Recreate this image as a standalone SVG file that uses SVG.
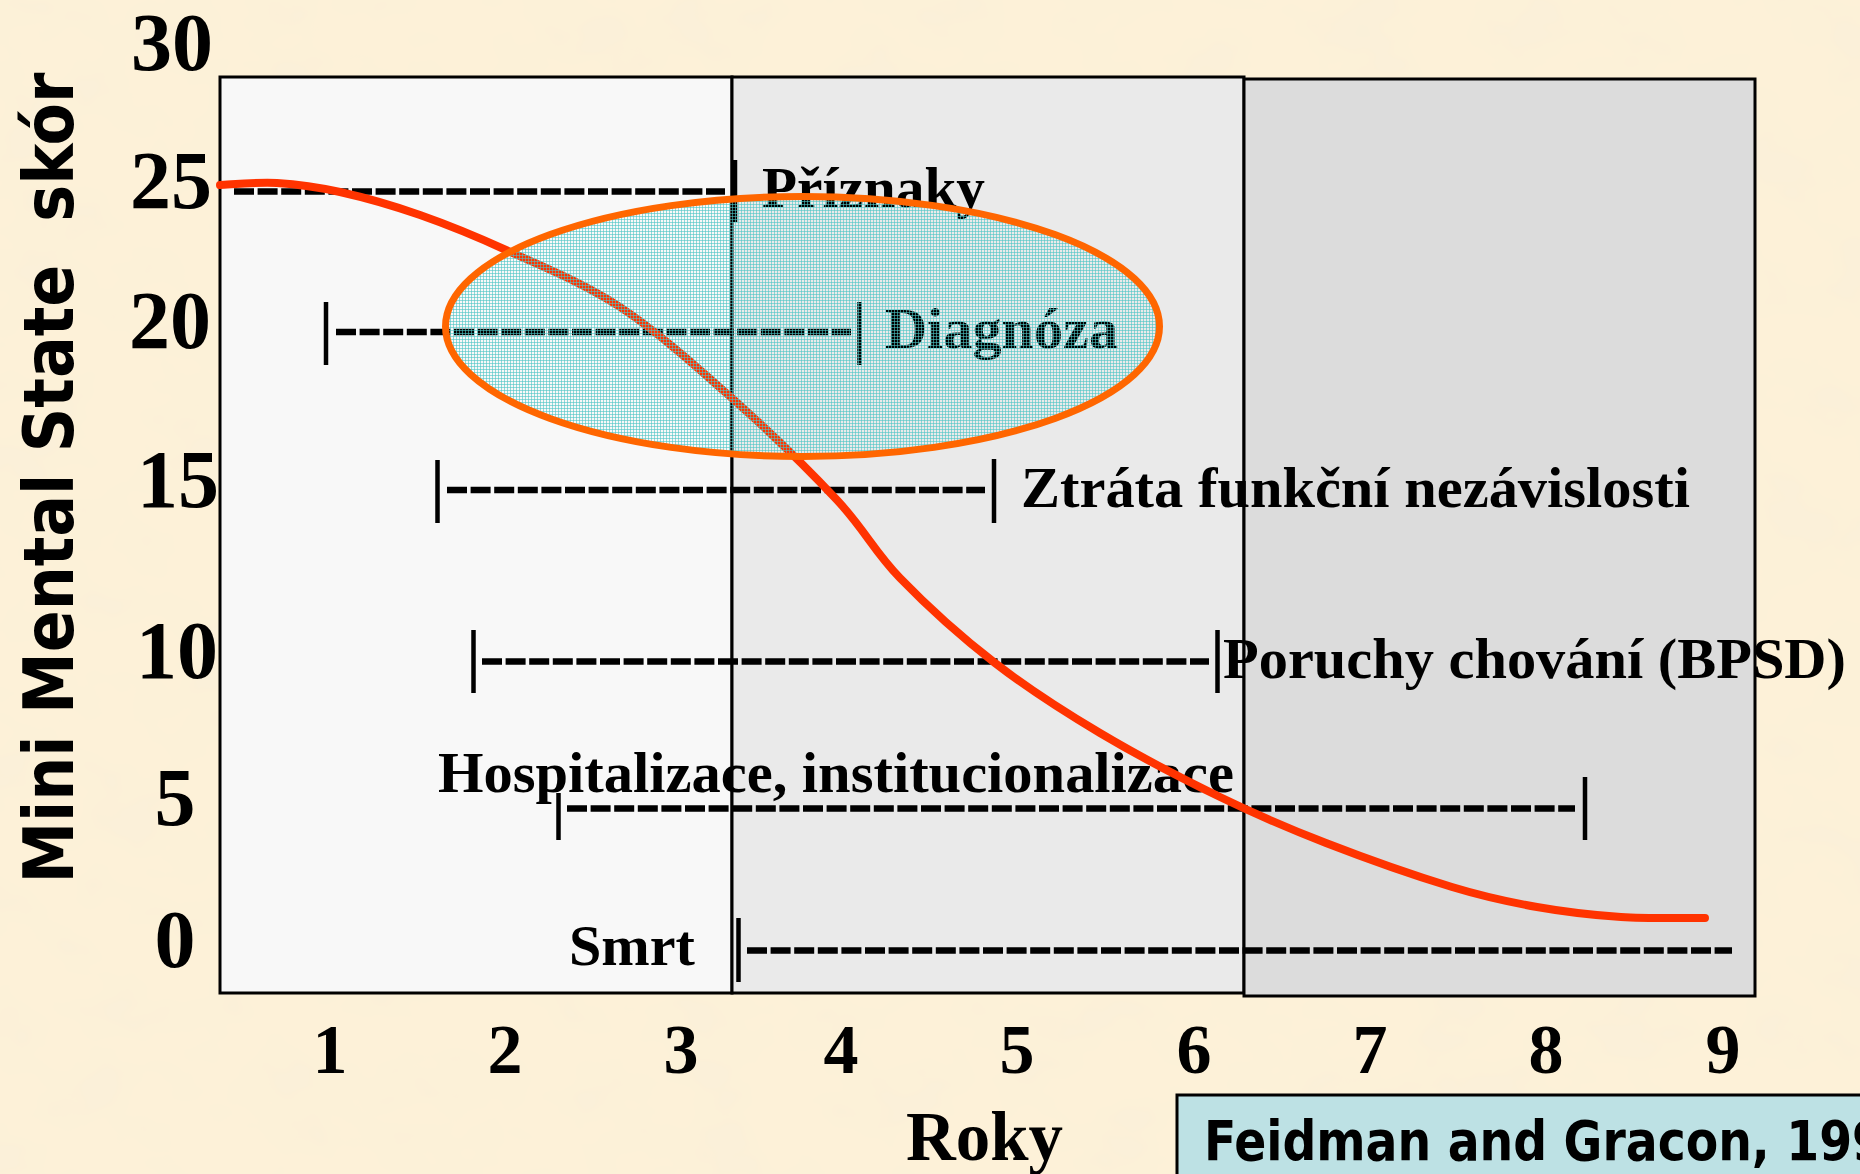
<svg xmlns="http://www.w3.org/2000/svg" width="1860" height="1174" viewBox="0 0 1860 1174">
<defs>
<filter id="tex" x="0" y="0" width="100%" height="100%">
<feTurbulence type="fractalNoise" baseFrequency="0.012 0.016" numOctaves="3" seed="7" result="n"/>
<feColorMatrix in="n" type="matrix" values="0 0 0 0 0.93  0 0 0 0 0.86  0 0 0 0 0.70  0.9 0 0 0 -0.36"/>
</filter>
<pattern id="grid" width="3" height="3" patternUnits="userSpaceOnUse">
<path d="M0 0.5H3M0.5 0V3" stroke="#4cc4c4" stroke-width="1" stroke-opacity="0.6"/>
</pattern>
<style>
.serif{font-family:"Liberation Serif","Times New Roman",serif;font-weight:bold;fill:#000}
.ylab{font-size:82px;text-anchor:middle}
.xlab{font-size:70px;text-anchor:middle}
.lab{font-size:58px}
.sans{font-family:"DejaVu Sans Condensed","DejaVu Sans",sans-serif;font-weight:bold;font-stretch:condensed;fill:#000}
.dash{stroke:#000;stroke-width:6.5;stroke-dasharray:20 3.6;fill:none}
.bar{stroke:#000;stroke-width:4.5}
.zone{stroke:#000;stroke-width:3}
</style>
</defs>
<rect width="1860" height="1174" fill="#fdf1d8"/>
<rect width="1860" height="1174" filter="url(#tex)"/>

<g id="zones">
<rect class="zone" x="220" y="77" width="512" height="916" fill="#f8f8f8"/>
<rect class="zone" x="732" y="77" width="512" height="916" fill="#eaeaea"/>
<rect class="zone" x="1244" y="79" width="511" height="917" fill="#dcdcdc" stroke-width="3.5"/>
</g>

<g id="y-axis">
<text class="sans" transform="translate(73 478) rotate(-90)" text-anchor="middle" font-size="70" textLength="811" lengthAdjust="spacingAndGlyphs">Mini Mental State&#160;&#160;skór</text>
<text class="serif ylab" x="172" y="70">30</text>
<text class="serif ylab" x="171" y="208">25</text>
<text class="serif ylab" x="170" y="348">20</text>
<text class="serif ylab" x="178" y="507">15</text>
<text class="serif ylab" x="177" y="678">10</text>
<text class="serif ylab" x="175" y="825">5</text>
<text class="serif ylab" x="175" y="967">0</text>
</g>

<g id="x-axis">
<text class="serif xlab" x="330" y="1073">1</text>
<text class="serif xlab" x="505" y="1073">2</text>
<text class="serif xlab" x="681" y="1073">3</text>
<text class="serif xlab" x="841" y="1073">4</text>
<text class="serif xlab" x="1017" y="1073">5</text>
<text class="serif xlab" x="1194" y="1073">6</text>
<text class="serif xlab" x="1370" y="1073">7</text>
<text class="serif xlab" x="1546" y="1073">8</text>
<text class="serif xlab" x="1723" y="1073">9</text>
<text class="serif" x="906" y="1160" font-size="70" textLength="157" lengthAdjust="spacingAndGlyphs">Roky</text>
</g>

<g id="connectors">
<line class="dash" x1="234" y1="191.5" x2="725" y2="191.5"/>
<line class="bar" x1="735" y1="160" x2="735" y2="222"/>
<line class="bar" x1="326" y1="302" x2="326" y2="365"/>
<line class="dash" x1="336" y1="332" x2="851" y2="332"/>
<line class="bar" x1="859.5" y1="302" x2="859.5" y2="365"/>
<line class="bar" x1="437.5" y1="460" x2="437.5" y2="523"/>
<line class="dash" x1="447" y1="490" x2="985" y2="490"/>
<line class="bar" x1="994" y1="459" x2="994" y2="523"/>
<line class="bar" x1="473.5" y1="630" x2="473.5" y2="693"/>
<line class="dash" x1="482" y1="661.5" x2="1209" y2="661.5"/>
<line class="bar" x1="1217.5" y1="630" x2="1217.5" y2="693"/>
<line class="bar" x1="558.5" y1="793" x2="558.5" y2="840"/>
<line class="dash" x1="567" y1="808.5" x2="1575" y2="808.5"/>
<line class="bar" x1="1585" y1="777" x2="1585" y2="840"/>
<line class="bar" x1="738.5" y1="918" x2="738.5" y2="982"/>
<line class="dash" x1="747" y1="950.5" x2="1732" y2="950.5"/>
</g>

<g id="node-priznaky"><text class="serif lab" x="762" y="207" textLength="223" lengthAdjust="spacingAndGlyphs">Příznaky</text></g>
<g id="node-diagnoza"><text class="serif lab" x="885" y="348" textLength="233" lengthAdjust="spacingAndGlyphs">Diagnóza</text></g>
<g id="node-ztrata"><text class="serif lab" x="1021" y="507" textLength="669" lengthAdjust="spacingAndGlyphs">Ztráta funkční nezávislosti</text></g>
<g id="node-poruchy"><text class="serif lab" x="1223" y="678" textLength="623" lengthAdjust="spacingAndGlyphs">Poruchy chování (BPSD)</text></g>
<g id="node-hospitalizace"><text class="serif lab" x="438" y="792" textLength="796" lengthAdjust="spacingAndGlyphs">Hospitalizace, institucionalizace</text></g>
<g id="node-smrt"><text class="serif lab" x="569" y="965" textLength="126" lengthAdjust="spacingAndGlyphs">Smrt</text></g>

<g id="mmse-curve">
<path d="M220 185 C229.5 184.7 257 181.8 277 183 C297 184.2 316.2 186.7 340 192 C363.8 197.3 392.3 205.3 420 215 C447.7 224.7 472.7 234.7 506 250 C539.3 265.3 582 282 620 307 C658 332 697.8 367.8 734 400 C770.2 432.2 809.3 470.3 837 500 C864.7 529.7 873.7 550.8 900 578 C926.3 605.2 961.7 637.2 995 663 C1028.3 688.8 1062.5 710.7 1100 733 C1137.5 755.3 1182.3 778.7 1220 797 C1257.7 815.3 1287.3 828 1326 843 C1364.7 858 1416.8 876.3 1452 887 C1487.2 897.7 1508.8 902 1537 907 C1565.2 912 1593 915.2 1621 917 C1649 918.8 1691 917.8 1705 918" fill="none" stroke="#ff3300" stroke-width="8" stroke-linecap="round" stroke-linejoin="round"/>
</g>

<g id="node-ellipse">
<ellipse cx="802.5" cy="326.5" rx="357" ry="130" fill="url(#grid)" stroke="#ff6600" stroke-width="7"/>
</g>

<g id="node-citation">
<rect x="1177" y="1095" width="700" height="100" fill="#bde1e4" stroke="#000" stroke-width="3"/>
<text class="sans" x="1204" y="1160" font-size="55" textLength="681" lengthAdjust="spacingAndGlyphs">Feidman and Gracon, 199</text>
</g>
</svg>
